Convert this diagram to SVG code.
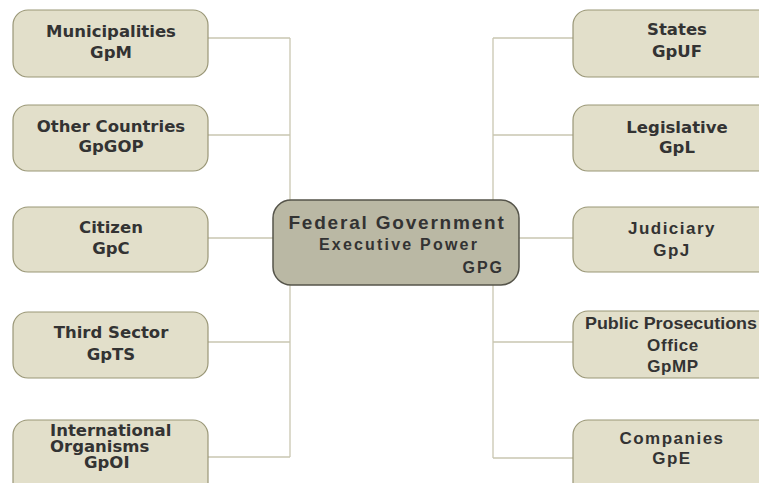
<svg xmlns="http://www.w3.org/2000/svg" width="759" height="483" viewBox="0 0 759 483">
<style>
.node rect{fill:#e2dfca;stroke:#9a9777;stroke-width:1.2}
.center rect{fill:#bab8a4;stroke:#55544a;stroke-width:1.5}
.v{font-family:"DejaVu Sans",Verdana,sans-serif;font-weight:bold;font-size:16.5px;fill:#333;text-anchor:middle}
.a{font-family:"Liberation Sans",Arial,sans-serif;font-weight:bold;font-size:17px;fill:#333;text-anchor:middle}
.conn line{stroke:#c9c6b1;stroke-width:1.3}
</style>
<rect width="759" height="483" fill="#fff"/>
<g id="connectors" class="conn">
<line x1="290" y1="38" x2="290" y2="457"/>
<line x1="208" y1="38" x2="290" y2="38"/>
<line x1="208" y1="135" x2="290" y2="135"/>
<line x1="208" y1="238" x2="274" y2="238"/>
<line x1="208" y1="342" x2="290" y2="342"/>
<line x1="208" y1="457" x2="290" y2="457"/>
<line x1="493" y1="38" x2="493" y2="458"/>
<line x1="493" y1="38" x2="574" y2="38"/>
<line x1="493" y1="135" x2="574" y2="135"/>
<line x1="518" y1="238" x2="574" y2="238"/>
<line x1="493" y1="342" x2="574" y2="342"/>
<line x1="493" y1="458" x2="574" y2="458"/>
</g>
<g id="n-municipalities" class="node"><rect x="13" y="10" width="195" height="67" rx="15"/><text class="v" x="111" y="37">Municipalities</text><text class="v" x="111" y="58">GpM</text></g>
<g id="n-othercountries" class="node"><rect x="13" y="105" width="195" height="66" rx="15"/><text class="v" x="111" y="132">Other Countries</text><text class="v" x="111" y="152">GpGOP</text></g>
<g id="n-citizen" class="node"><rect x="13" y="207" width="195" height="65" rx="15"/><text class="v" x="111" y="233">Citizen</text><text class="v" x="111" y="254">GpC</text></g>
<g id="n-thirdsector" class="node"><rect x="13" y="312" width="195" height="66" rx="15"/><text class="v" x="111" y="338">Third Sector</text><text class="v" x="111" y="360">GpTS</text></g>
<g id="n-intorg" class="node"><rect x="13" y="420" width="195" height="80" rx="15"/><text class="v" x="50" y="436" font-size="16" style="text-anchor:start">International</text><text class="v" x="50" y="452" font-size="16" style="text-anchor:start">Organisms</text><text class="v" x="84" y="468" font-size="16" style="text-anchor:start">GpOI</text></g>
<g id="n-states" class="node"><rect x="573" y="10" width="208" height="67" rx="15"/><text class="v" x="677" y="35">States</text><text class="v" x="677" y="57">GpUF</text></g>
<g id="n-legislative" class="node"><rect x="573" y="105" width="208" height="66" rx="15"/><text class="v" x="677" y="133">Legislative</text><text class="v" x="677" y="153">GpL</text></g>
<g id="n-judiciary" class="node"><rect x="573" y="207" width="208" height="65" rx="15"/><text class="a" x="672" y="234" letter-spacing="1.5">Judiciary</text><text class="a" x="672" y="256" letter-spacing="1.5">GpJ</text></g>
<g id="n-mp" class="node"><rect x="573" y="311" width="208" height="67" rx="15"/><text class="a" x="585" y="329" font-size="18" style="text-anchor:start" textLength="172" lengthAdjust="spacingAndGlyphs">Public Prosecutions</text><text class="a" x="673" y="351" font-size="18" letter-spacing="0.6">Office</text><text class="a" x="673" y="372" font-size="18" letter-spacing="0.6">GpMP</text></g>
<g id="n-companies" class="node"><rect x="573" y="420" width="208" height="80" rx="15"/><text class="a" x="672" y="444" letter-spacing="1.5">Companies</text><text class="a" x="672" y="464" letter-spacing="1.5">GpE</text></g>
<g id="n-federal" class="center"><rect x="273" y="200" width="246" height="85" rx="18"/><text x="397" y="229" font-family="Liberation Sans, Arial, sans-serif" font-weight="bold" font-size="19" letter-spacing="1.8" fill="#333" text-anchor="middle">Federal Government</text><text x="399" y="250" font-family="Liberation Sans, Arial, sans-serif" font-weight="bold" font-size="16" letter-spacing="2.2" fill="#333" text-anchor="middle">Executive Power</text><text x="504" y="273" font-family="Liberation Sans, Arial, sans-serif" font-weight="bold" font-size="16" letter-spacing="2" fill="#333" text-anchor="end">GPG</text></g>
</svg>
